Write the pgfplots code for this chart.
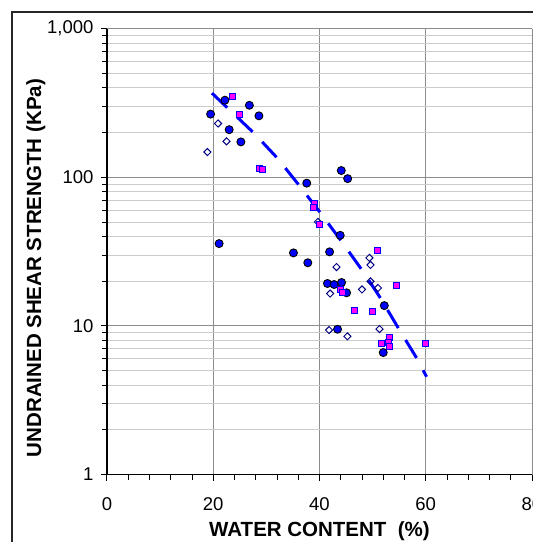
\documentclass[border=0pt]{standalone}
\usepackage{pgfplots}
\pgfplotsset{compat=1.18}
\usepackage{fontspec}
\setmainfont{Liberation Sans}

\definecolor{ptblue}{RGB}{0,0,255}
\definecolor{ptnavy}{RGB}{0,0,128}
\definecolor{ptmag}{RGB}{255,0,255}

\begin{document}
\begin{tikzpicture}
\useasboundingbox (0,0) rectangle (533pt,542pt);
\clip (0,0) rectangle (533pt,542pt);
% outer chart frame (runs off the crop at right and bottom)
\draw[line width=1.2pt, black!85] (12pt,530pt) rectangle (700pt,-100pt);
\begin{axis}[
  at={(107pt,67.4pt)}, anchor=south west,
  scale only axis,
  width=425pt, height=446pt,
  xmin=0, xmax=80,
  ymode=log, ymin=1, ymax=1000,
  xtick={0,20,40,60,80},
  minor x tick num=4,
  ytick={1,10,100,1000},
  yticklabels={1,10,100,{1,000}},
  axis x line*=bottom, axis y line*=left,
  axis line style={-, line width=1.3pt, black},
  tick align=outside,
  major tick length=6pt, minor tick length=5pt,
  tick style={black, line width=1pt},
  xmajorgrids, ymajorgrids, yminorgrids,
  major grid style={line width=1pt, color=black!45},
  minor grid style={line width=1pt, color=black!20},
  /pgf/number format/assume math mode=true,
  ticklabel style={font=\fontsize{18.5}{18.5}\selectfont},
  xticklabel style={yshift=-13pt},
  yticklabel style={xshift=-4pt},
  xlabel={\textbf{WATER CONTENT\ \ (\%)}},
  ylabel={\textbf{UNDRAINED SHEAR STRENGTH (KPa)}},
  label style={font=\fontsize{20.5}{20.5}\selectfont},
  xlabel style={at={(rel axis cs:0.5,0)}, anchor=north, yshift=-44pt},
  ylabel style={at={(rel axis cs:0,0.463)}, anchor=south, yshift=58pt},
  clip=false,
]
% filled blue circles
\addplot[only marks, mark=*, mark size=4pt,
  mark options={fill=ptblue, draw=black, line width=0.9pt}] coordinates {
  (19.5,266) (22.2,330) (23.0,209) (25.2,173) (26.8,305) (28.6,259)
  (21.1,35.8) (35.1,31.0) (37.6,91.3) (37.8,26.6)
  (44.1,111) (45.3,97.9) (43.9,40.7) (41.9,31.5)
  (41.5,19.3) (42.75,19.0) (44.15,19.6) (45.1,16.7)
  (43.4,9.5) (52.2,13.7) (52.0,6.62)
};
% open diamonds
\addplot[only marks, mark=square, mark size=2.5pt,
  mark options={rotate=45, fill=white, draw=ptnavy, line width=1pt}] coordinates {
  (18.9,147.8) (20.9,230) (22.5,174.5)
  (39.7,50.1) (43.2,24.9) (49.4,28.7) (49.6,25.7)
  (42.0,16.5) (48.0,17.6) (49.6,19.95) (51.0,18.0)
  (41.8,9.38) (45.25,8.51) (51.3,9.53)
};
% magenta squares
\addplot[only marks, mark=square*, mark size=3pt,
  mark options={fill=ptmag, draw=ptblue, line width=0.9pt}] coordinates {
  (23.7,352) (25.0,266) (28.7,115) (29.3,113)
  (39.0,66.9) (38.8,63.1) (40.0,47.8)
  (51.0,32.0) (54.4,18.6) (43.85,17.5) (44.3,16.7)
  (46.5,12.66) (50.05,12.45)
  (53.25,8.43) (51.6,7.65) (53.05,7.69) (53.25,7.25) (59.9,7.65)
};
% trend line
\addplot[ptblue, line width=3pt, dash pattern=on 21pt off 14pt] coordinates {
  (19.76,368) (27.67,198) (32.06,134.6) (36.14,88.5) (40.23,57.3)
  (44.18,36.9) (48.13,23.4) (51.58,15.2) (54.96,9.51) (58.30,6.07)
  (60.16,4.55)
};
\end{axis}
\end{tikzpicture}
\end{document}
